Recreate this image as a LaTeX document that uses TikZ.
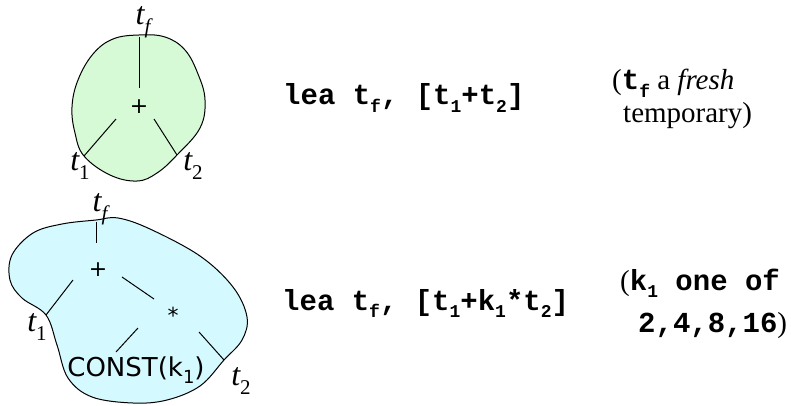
\documentclass[tikz,border=0pt]{standalone}
\usepackage{fontspec}
\setmainfont{Liberation Serif}
\newfontfamily\cour{Liberation Mono}
\newfontfamily\vsans{DejaVu Sans}
\definecolor{blobgreen}{RGB}{214,250,214}
\definecolor{blobcyan}{RGB}{212,250,255}
\newcommand\subs[1]{\raisebox{-0.25em}{\fontsize{18}{18}\selectfont #1}}
\newcommand\isub[1]{\raisebox{-0.28em}{\fontsize{21}{21}\selectfont #1}}
\begin{document}
\begin{tikzpicture}[x=1pt,y=-1pt,
  lbl/.style={font=\fontsize{32}{32}\selectfont\itshape, inner sep=0},
  op/.style={font=\vsans\fontsize{22}{22}\selectfont, inner sep=0},
  constlbl/.style={font=\vsans\fontsize{26}{26}\selectfont, inner sep=0},
  code/.style={font=\cour\bfseries\fontsize{29}{33}\selectfont, anchor=base west, inner sep=0},
  note/.style={font=\fontsize{29}{33}\selectfont, anchor=base west, inner sep=0},
  blob/.style={draw=black, line width=1pt},
  edge/.style={draw=black, line width=1pt}]
\useasboundingbox (0,0) rectangle (791,406);
% ---------- top tree ----------
\draw[blob, fill=blobgreen] plot[smooth cycle, tension=0.65] coordinates {
 (139,35) (165,37) (185,50) (198,74) (205,100) (200,128) (177,155)
 (157,173) (137,181) (110,175) (84,156) (75,133) (72,107) (78,80) (93,54) (113,39)};
\node[op] (plusA) at (139,107) {+};
\node[lbl] (tfA) at (143,22) {t\isub{f}};
\node[lbl] (t1A) at (80,166) {t\isub{\upshape 1}};
\node[lbl] (t2A) at (193,166) {t\isub{\upshape 2}};
\coordinate (a1) at (139,37);  \coordinate (a2) at (139,88);
\coordinate (a3) at (116,119); \coordinate (a4) at (84,156);
\coordinate (a5) at (154,119); \coordinate (a6) at (177,155);
\draw[edge] (a1) -- (a2);
\draw[edge] (a3) -- (a4);
\draw[edge] (a5) -- (a6);
\node[code] (leaA) at (283,105) {lea t\subs{f}, [t\subs{1}+t\subs{2}]};
\node[note] (noteA1) at (612,90) {(\cour\bfseries t\subs{f}\rmfamily\mdseries{} a \textit{fresh}};
\node[note] (noteA2) at (623,123) {temporary)};
% ---------- bottom tree ----------
\draw[blob, fill=blobcyan] plot[smooth cycle, tension=0.6] coordinates {
 (96,220) (118,218) (150,229) (200,256) (233,287) (247,317) (242,340) (224,360)
 (200,386) (167,400) (133,403) (92,397) (68,378) (57,345) (46,315)
 (22,298) (10,280) (12,255) (33,233) (62,224)};
\node[lbl] (tfB) at (100,209) {t\isub{f}};
\node[op] (plusB) at (98,270) {+};
\node[op] (starB) at (173,315) {*};
\node[constlbl] (constB) at (136,370) {CONST(k\subs{1})};
\node[lbl] (t1B) at (37,327) {t\isub{\upshape 1}};
\node[lbl] (t2B) at (241,381) {t\isub{\upshape 2}};
\coordinate (b1) at (96,222);  \coordinate (b2) at (96,243);
\coordinate (b3) at (73,280);  \coordinate (b4) at (46,315);
\coordinate (b5) at (122,277); \coordinate (b6) at (154,299);
\coordinate (b7) at (138,328); \coordinate (b8) at (116,352);
\coordinate (b9) at (199,332); \coordinate (b10) at (224,360);
\draw[edge] (b1) -- (b2);
\draw[edge] (b3) -- (b4);
\draw[edge] (b5) -- (b6);
\draw[edge] (b7) -- (b8);
\draw[edge] (b9) -- (b10);
\node[code] (leaB) at (282,310) {lea t\subs{f}, [t\subs{1}+k\subs{1}*t\subs{2}]};
\node[code] (noteB1) at (620,290) {\rmfamily\mdseries(\cour\bfseries k\subs{1} one of};
\node[code] (noteB2) at (638,332) {2,4,8,16\rmfamily\mdseries)};
\end{tikzpicture}
\end{document}
